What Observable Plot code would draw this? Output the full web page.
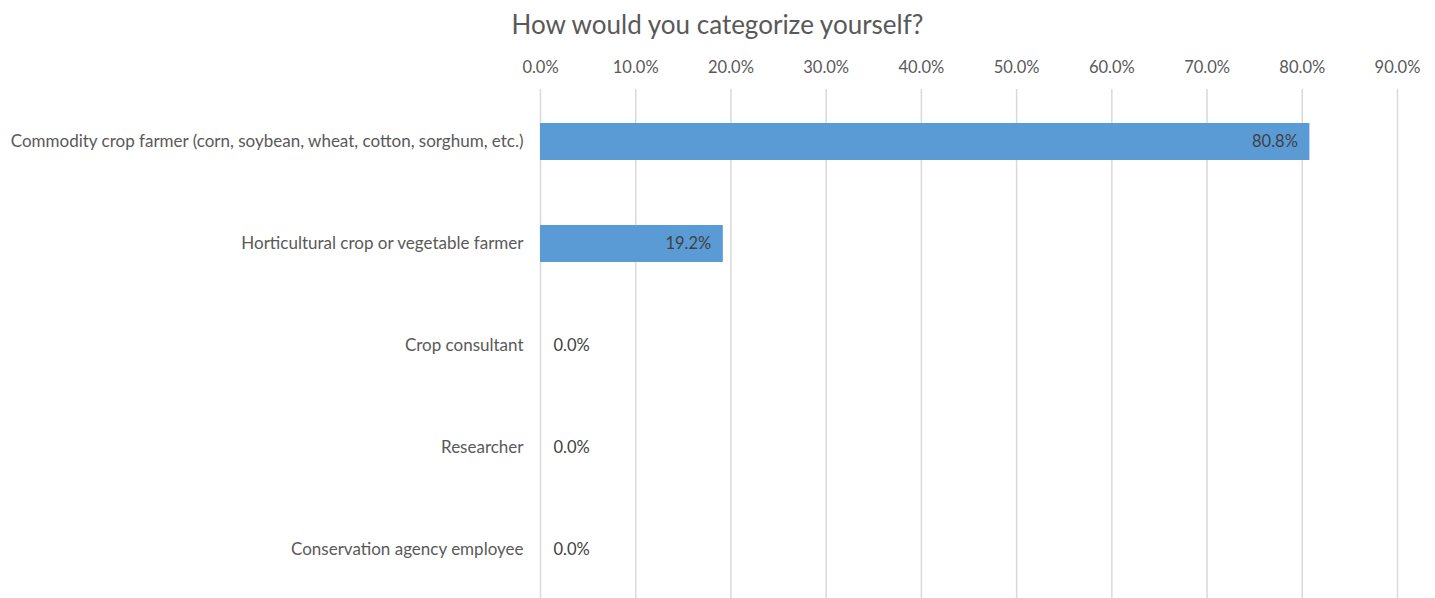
<!DOCTYPE html>
<html>
<head>
<meta charset="utf-8">
<script src="https://cdn.jsdelivr.net/npm/d3@7"></script>
<script src="https://cdn.jsdelivr.net/npm/@observablehq/plot@0.6"></script>
<style>
  html, body { margin: 0; padding: 0; background: #fff; }
  body { width: 1435px; height: 598px; overflow: hidden; font-family: Lato, "Open Sans", sans-serif; }
  #title { height: 46px; line-height: 48px; text-align: center; font-size: 26px; color: #595959; }
  svg { display: block; }
</style>
</head>
<body>
<div id="title">How would you categorize yourself?</div>
<div id="chart"></div>
<script>
const categories = [
  "Commodity crop farmer (corn, soybean, wheat, cotton, sorghum, etc.)",
  "Horticultural crop or vegetable farmer",
  "Crop consultant",
  "Researcher",
  "Conservation agency employee"
];
const shares = [0.808, 0.192, 0, 0, 0];
const xTicks = [0, 0.1, 0.2, 0.3, 0.4, 0.5, 0.6, 0.7, 0.8, 0.9];

const data = categories.map((c, i) => ({category: c, value: shares[i]}));
const fmt = d3.format(".1%");
const textColor = "#595959";

const chart = Plot.plot({
  width: 1435,
  height: 556,
  marginLeft: 540,
  marginRight: 38,
  marginTop: 43,
  marginBottom: 0,
  style: {fontFamily: "Lato, 'Open Sans', sans-serif", fontSize: "16px", color: textColor, background: "#fff"},
  x: {domain: [0, 0.9], ticks: xTicks, tickFormat: fmt},
  y: {domain: categories, paddingInner: 0.636, paddingOuter: 0.318},
  marks: [
    Plot.gridX(xTicks, {stroke: "#d9d9d9", strokeOpacity: 1, strokeWidth: 1.5}),
    Plot.axisX({anchor: "top", ticks: xTicks, tickFormat: fmt, tickSize: 0, tickPadding: 17, fill: textColor, fontSize: 16.5, label: null}),
    Plot.axisY({tickSize: 0, tickPadding: 17, fill: textColor, fontSize: 17, label: null}),
    Plot.barX(data, {x: "value", y: "category", fill: "#5b9bd5"}),
    Plot.text(data.filter(d => d.value > 0), {x: "value", y: "category", text: d => fmt(d.value), textAnchor: "end", dx: -12, fill: "#404040", fontSize: 16.5}),
    Plot.text(data.filter(d => d.value === 0), {x: "value", y: "category", text: d => fmt(d.value), textAnchor: "start", dx: 13, fill: "#404040", fontSize: 16.5})
  ]
});
document.getElementById("chart").appendChild(chart);
</script>
</body>
</html>
